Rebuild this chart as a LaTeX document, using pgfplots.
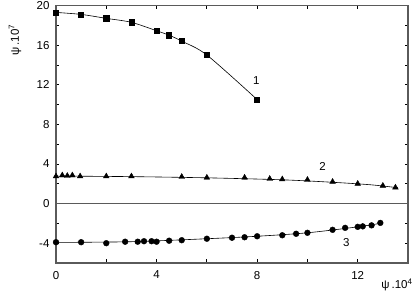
\documentclass[border=0pt]{standalone}
\usepackage{fontspec}
\setmainfont{Liberation Sans}
\usepackage{pgfplots}
\pgfplotsset{compat=1.18}
\begin{document}
\begin{tikzpicture}
\definecolor{axgray}{RGB}{90,90,90}
\begin{axis}[
  width=352pt, height=257.5pt, scale only axis,
  xmin=0, xmax=14, ymin=-6, ymax=20,
  xtick={0,4,8,12}, minor xtick={2,6,10},
  ytick={-4,0,4,8,12,16,20}, minor ytick={-2,2,6,10,14,18},
  major tick length=3.5pt, minor tick length=3.5pt,
  tick align=inside,
  axis line style={axgray, line width=1.3pt},
  every tick/.style={black, line width=0.8pt},
  every minor tick/.style={black, line width=0.8pt},
  /pgf/number format/assume math mode=true,
  tick label style={font=\fontsize{11.5}{13}\selectfont},
  yticklabel style={xshift=-3pt},
  xticklabel style={yshift=-4.5pt},
  clip=false,
]
% zero line
\addplot[axgray, line width=0.9pt, no marks] coordinates {(0,0) (14,0)};
% curve 1
\addplot[black, line width=0.6pt, smooth, mark=square*, mark size=2.6pt, mark options={solid}] coordinates {
(0,19.3) (1,19.1) (2,18.7) (3,18.3) (4,17.45) (4.5,17.0) (5,16.4) (6,15.0) (8,10.5)};
% line 2
\addplot[black, line width=0.6pt, smooth, no marks] coordinates {
(0,2.78) (3,2.72) (6,2.6) (9,2.4) (11,2.15) (12.5,1.9) (13.6,1.6)};
\addplot[only marks, black, mark=triangle*, mark size=3.3pt] coordinates {
(0,2.75) (0.25,2.85) (0.45,2.8) (0.65,2.85) (0.96,2.75) (2,2.75) (3,2.75)
(5,2.7) (6,2.62) (7.5,2.62) (8.5,2.5) (9,2.45) (10,2.4) (11,2.2) (12,2.0) (13,1.8) (13.5,1.62)};
% line 3
\addplot[black, line width=0.6pt, smooth, no marks] coordinates {
(0,-3.92) (3,-3.85) (6,-3.55) (8,-3.3) (10,-2.95) (12,-2.35) (13,-1.95)};
\addplot[only marks, black, mark=*, mark size=2.9pt] coordinates {
(0,-3.9) (1,-3.9) (2,-4.0) (2.75,-3.85) (3.25,-3.85) (3.5,-3.8) (3.8,-3.8) (4.0,-3.85)
(4.5,-3.75) (5,-3.7) (6,-3.55) (7,-3.45) (7.5,-3.4) (8,-3.3)
(9,-3.2) (9.55,-3.05) (10,-2.95) (11,-2.65) (11.5,-2.45) (12,-2.35) (12.2,-2.3) (12.55,-2.2) (12.9,-1.95)};
\node[font=\fontsize{11.5}{13}\selectfont] at (axis cs:7.97,12.4) {1};
\node[font=\fontsize{11.5}{13}\selectfont] at (axis cs:10.6,3.75) {2};
\node[font=\fontsize{11.5}{13}\selectfont] at (axis cs:11.55,-3.9) {3};
\node[font=\fontsize{11.5}{13}\selectfont, anchor=center] at ([xshift=-11pt,yshift=-22pt]rel axis cs:1,0) {ψ\,.10\textsuperscript{4}};
\node[font=\fontsize{11.5}{13}\selectfont, anchor=center, rotate=90] at ([xshift=-41pt,yshift=-34.5pt]rel axis cs:0,1) {ψ\,.10\textsuperscript{7}};
\end{axis}
\pgfresetboundingbox
\useasboundingbox ([xshift=-56pt,yshift=-34pt]current axis.south west) rectangle ([xshift=7pt,yshift=5.5pt]current axis.north east);
\end{tikzpicture}
\end{document}
